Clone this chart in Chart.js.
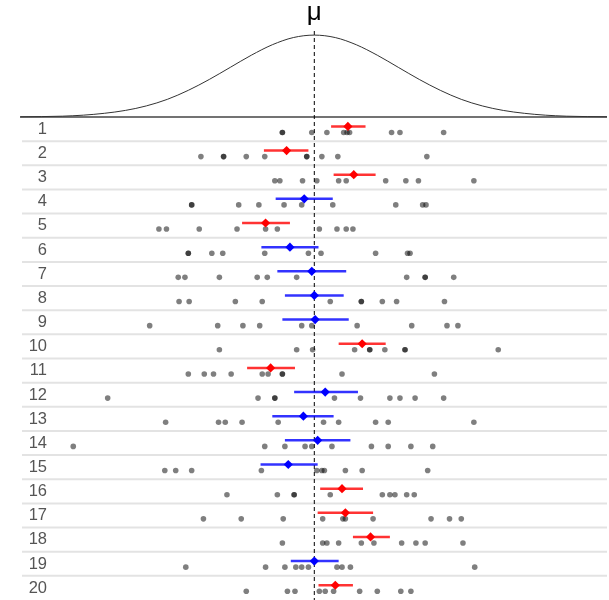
<!DOCTYPE html>
<html>
<head>
<meta charset="utf-8">
<script src="https://cdn.jsdelivr.net/npm/chart.js@4"></script>
<style>
  html, body { margin: 0; padding: 0; background: #fff; }
  #wrap { width: 609px; height: 600px; }
</style>
</head>
<body>
<div id="wrap"><canvas id="chart"></canvas></div>
<script>
// population
const mu = 50;

// normal curve
const curveX = [15, 17.5, 20, 22.5, 25, 27.5, 30, 32.5, 35, 37.5, 40, 42.5, 45, 47.5, 50,
  52.5, 55, 57.5, 60, 62.5, 65, 67.5, 70, 72.5, 75, 77.5, 80, 82.5, 85];
const curveD = [0.0001, 0.0002, 0.0004, 0.0009, 0.0018, 0.0032, 0.0054, 0.0086, 0.0130, 0.0183,
  0.0242, 0.0301, 0.0352, 0.0387, 0.0399, 0.0387, 0.0352, 0.0301, 0.0242, 0.0183, 0.0130,
  0.0086, 0.0054, 0.0032, 0.0018, 0.0009, 0.0004, 0.0002, 0.0001];

// sample labels
const rowLabels = ['1', '2', '3', '4', '5', '6', '7', '8', '9', '10',
  '11', '12', '13', '14', '15', '16', '17', '18', '19', '20'];

// 10 observations per sample
const samples = [
  [46.2, 46.2, 49.7, 51.5, 53.5, 53.9, 54.2, 59.2, 60.2, 65.4],
  [36.5, 39.2, 39.2, 41.9, 44.1, 49.1, 49.1, 50.9, 52.8, 63.4],
  [45.3, 45.9, 48.6, 50.3, 52.9, 53.8, 58.5, 60.9, 62.4, 69.0],
  [35.4, 35.4, 41.0, 43.4, 46.4, 48.5, 52.2, 59.7, 62.9, 63.3],
  [31.5, 32.4, 36.3, 40.8, 44.2, 45.6, 50.6, 52.7, 53.8, 54.6],
  [35.0, 35.0, 37.8, 39.1, 44.1, 49.3, 50.8, 57.3, 61.1, 61.4],
  [33.8, 34.6, 38.7, 43.2, 44.4, 47.9, 61.0, 63.2, 63.2, 66.6],
  [33.9, 35.1, 40.6, 43.8, 51.9, 55.6, 55.6, 58.1, 59.8, 65.5],
  [30.4, 38.5, 41.5, 43.5, 48.5, 49.7, 55.1, 61.6, 65.8, 67.1],
  [38.7, 47.9, 49.8, 54.8, 56.6, 56.6, 58.4, 60.8, 60.8, 71.9],
  [35.0, 36.9, 38.0, 40.1, 43.8, 44.5, 46.2, 46.2, 53.3, 64.3],
  [25.4, 43.3, 45.3, 45.3, 52.4, 55.5, 59.0, 60.2, 62.0, 65.4],
  [32.3, 38.6, 39.4, 41.4, 45.7, 51.1, 52.9, 57.3, 58.8, 69.0],
  [21.3, 44.1, 46.5, 48.9, 49.7, 52.1, 56.8, 58.8, 61.5, 64.1],
  [32.2, 33.5, 35.4, 43.7, 50.3, 50.9, 51.2, 53.7, 55.7, 63.5],
  [39.6, 45.6, 47.6, 47.6, 51.9, 58.1, 59.0, 59.6, 61.0, 61.9],
  [36.8, 41.3, 46.3, 51.0, 53.4, 53.7, 57.0, 63.9, 66.1, 67.5],
  [46.2, 51.0, 51.5, 52.9, 55.6, 57.1, 60.4, 62.1, 63.2, 67.7],
  [34.7, 44.2, 46.5, 47.8, 48.5, 49.3, 52.7, 53.3, 54.3, 69.1],
  [41.9, 46.8, 47.7, 50.6, 51.3, 52.3, 55.4, 57.5, 60.3, 61.5]
];

// sample means and interval ends
const means = [54.0, 46.7, 54.7, 48.8, 44.2, 47.1, 49.7, 50.0, 50.1, 55.7,
  44.8, 51.3, 48.7, 50.4, 46.9, 53.3, 53.7, 56.7, 50.0, 52.5];
const ciLow = [52.0, 44.0, 52.3, 45.4, 41.4, 43.7, 45.6, 46.5, 46.2, 52.9,
  42.0, 47.6, 45.0, 46.5, 43.6, 50.7, 50.4, 54.6, 47.2, 50.5];
const ciHigh = [56.1, 49.3, 57.3, 52.2, 47.1, 50.5, 53.8, 53.5, 54.1, 58.5,
  47.7, 55.2, 52.3, 54.3, 50.4, 55.8, 57.0, 59.0, 52.9, 54.6];

const curveScale = 85;   // density -> row units
const dotOffset = 0.64;  // position of dots inside a row
const meanOffset = 0.39; // position of mean/interval inside a row

function hitsMu(i) {
  return ciLow[i] <= mu && ciHigh[i] >= mu;
}

const datasets = [];

datasets.push({
  type: 'line',
  data: curveX.map((x, i) => ({ x: x, y: -curveD[i] * curveScale })),
  borderColor: '#333',
  borderWidth: 1,
  pointRadius: 0,
  cubicInterpolationMode: 'monotone',
  order: 5
});

const dots = [];
samples.forEach((s, i) => {
  s.forEach(v => dots.push({ x: v, y: i + dotOffset }));
});
datasets.push({
  type: 'scatter',
  data: dots,
  backgroundColor: 'rgba(0,0,0,0.5)',
  borderWidth: 0,
  pointRadius: 2.8,
  order: 4
});

means.forEach((m, i) => {
  datasets.push({
    type: 'line',
    data: [{ x: ciLow[i], y: i + meanOffset }, { x: ciHigh[i], y: i + meanOffset }],
    borderColor: hitsMu(i) ? 'rgba(0,0,255,0.8)' : 'rgba(255,0,0,0.8)',
    borderWidth: 2.5,
    pointRadius: 0,
    order: 3
  });
});

datasets.push({
  type: 'scatter',
  data: means.map((m, i) => ({ x: m, y: i + meanOffset })),
  pointStyle: 'rectRot',
  pointRadius: 4.6,
  backgroundColor: means.map((m, i) => hitsMu(i) ? '#0000ff' : '#ff0000'),
  borderWidth: 0,
  order: 1
});

const decorPlugin = {
  id: 'decor',
  beforeDatasetsDraw(chart) {
    const ctx = chart.ctx;
    const xs = chart.scales.x, ys = chart.scales.y;
    const left = chart.chartArea.left, right = chart.chartArea.right;
    ctx.save();
    // row separators
    ctx.strokeStyle = '#e3e3e3';
    ctx.lineWidth = 2;
    for (let k = 1; k < rowLabels.length; k++) {
      const y = ys.getPixelForValue(k);
      ctx.beginPath();
      ctx.moveTo(left + 2, y);
      ctx.lineTo(right, y);
      ctx.stroke();
    }
    // baseline under the curve
    ctx.strokeStyle = '#444';
    ctx.lineWidth = 1.5;
    const y0 = ys.getPixelForValue(0);
    ctx.beginPath();
    ctx.moveTo(left, y0);
    ctx.lineTo(right, y0);
    ctx.stroke();
    // row labels
    ctx.fillStyle = '#555';
    ctx.font = '16.5px "Liberation Sans", Arial, sans-serif';
    ctx.textAlign = 'right';
    ctx.textBaseline = 'middle';
    rowLabels.forEach((t, i) => {
      ctx.fillText(t, 47, ys.getPixelForValue(i + 0.51));
    });
    // mu line
    const xm = xs.getPixelForValue(mu);
    ctx.strokeStyle = '#000';
    ctx.lineWidth = 1;
    ctx.setLineDash([4, 3]);
    ctx.beginPath();
    ctx.moveTo(xm, 31);
    ctx.lineTo(xm, chart.height);
    ctx.stroke();
    ctx.setLineDash([]);
    ctx.fillStyle = '#000';
    ctx.font = '26px "Liberation Sans", Arial, sans-serif';
    ctx.textAlign = 'center';
    ctx.textBaseline = 'alphabetic';
    ctx.fillText('μ', xm, 20);
    ctx.restore();
  }
};

new Chart(document.getElementById('chart'), {
  data: { datasets: datasets },
  options: {
    responsive: true,
    maintainAspectRatio: false,
    animation: false,
    layout: { autoPadding: false, padding: { left: 20, right: 2, top: 0, bottom: 0 } },
    plugins: { legend: { display: false }, tooltip: { enabled: false } },
    scales: {
      x: { type: 'linear', min: 14.96, max: 84.85, display: false },
      y: { type: 'linear', reverse: true, min: -4.845, max: 20, display: false }
    }
  },
  plugins: [decorPlugin]
});
</script>
</body>
</html>
